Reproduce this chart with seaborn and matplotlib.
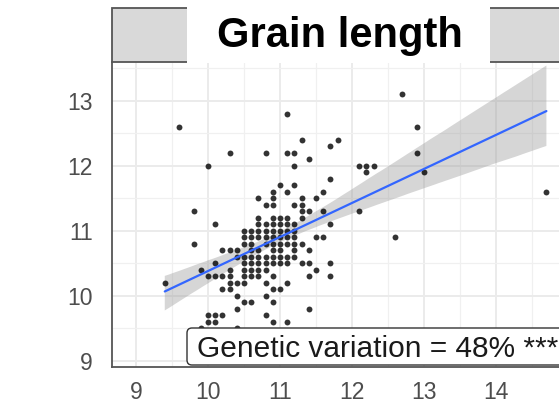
import matplotlib
matplotlib.use("Agg")
import matplotlib.pyplot as plt
import seaborn as sns
import pandas as pd
from matplotlib.patches import Rectangle, FancyBboxPatch
from matplotlib.ticker import MultipleLocator, FixedLocator
from matplotlib.collections import PolyCollection
from matplotlib.transforms import IdentityTransform

# ---- data (one line per y level) ----
x_values = [
    12.7,
    11.1,
    9.6, 12.9,
    11.3, 11.8,
    11.7,
    10.3, 10.8, 11.1, 11.2, 12.9,
    11.4,
    10.0, 11.2, 12.1, 12.2, 12.3,
    12.2, 13.0,
    11.7,
    11.0, 11.2,
    10.9, 11.1, 11.6, 14.7,
    10.7, 10.9, 11.3, 11.5,
    10.8, 10.9, 11.2, 11.3,
    9.8, 11.3, 11.4, 11.6, 12.1,
    10.7, 10.9, 11.0, 11.1, 11.3,
    10.1, 10.7, 10.8, 10.9, 11.0, 11.1, 11.2, 11.7,
    10.5, 10.6, 10.7, 10.8, 10.9, 11.0, 11.1, 11.2,
    10.5, 10.6, 10.7, 10.8, 10.9, 11.0, 11.1, 11.2, 11.5, 11.6, 12.6,
    9.8, 10.5, 10.6, 10.8, 10.9, 11.0, 11.1, 11.2, 11.3,
    10.2, 10.3, 10.4, 10.6, 10.7, 10.9, 11.0, 11.2, 11.4,
    10.4, 10.5, 10.6, 10.7, 10.8, 10.9, 11.0, 11.1, 11.2,
    10.1, 10.5, 10.6, 10.7, 10.8, 10.9, 11.0, 11.1, 11.3, 11.4, 11.7,
    9.9, 10.3, 10.5, 10.6, 10.7, 10.8, 11.5,
    10.0, 10.1, 10.2, 10.3, 10.5, 10.6, 10.7, 10.9, 11.4, 11.7,
    9.4, 10.3, 10.4, 10.5, 10.8, 11.1,
    10.2, 10.3, 10.9, 11.0,
    10.4, 10.8,
    10.5, 10.6, 10.9,
    10.4, 11.4,
    10.0, 10.1, 10.2, 10.8,
    10.0, 10.1, 10.9, 11.1,
    9.9, 10.4,
]
y_values = [
    13.1,
    12.8,
    12.6, 12.6,
    12.4, 12.4,
    12.3,
    12.2, 12.2, 12.2, 12.2, 12.2,
    12.1,
    12.0, 12.0, 12.0, 12.0, 12.0,
    11.9, 11.9,
    11.8,
    11.7, 11.7,
    11.6, 11.6, 11.6, 11.6,
    11.5, 11.5, 11.5, 11.5,
    11.4, 11.4, 11.4, 11.4,
    11.3, 11.3, 11.3, 11.3, 11.3,
    11.2, 11.2, 11.2, 11.2, 11.2,
    11.1, 11.1, 11.1, 11.1, 11.1, 11.1, 11.1, 11.1,
    11.0, 11.0, 11.0, 11.0, 11.0, 11.0, 11.0, 11.0,
    10.9, 10.9, 10.9, 10.9, 10.9, 10.9, 10.9, 10.9, 10.9, 10.9, 10.9,
    10.8, 10.8, 10.8, 10.8, 10.8, 10.8, 10.8, 10.8, 10.8,
    10.7, 10.7, 10.7, 10.7, 10.7, 10.7, 10.7, 10.7, 10.7,
    10.6, 10.6, 10.6, 10.6, 10.6, 10.6, 10.6, 10.6, 10.6,
    10.5, 10.5, 10.5, 10.5, 10.5, 10.5, 10.5, 10.5, 10.5, 10.5, 10.5,
    10.4, 10.4, 10.4, 10.4, 10.4, 10.4, 10.4,
    10.3, 10.3, 10.3, 10.3, 10.3, 10.3, 10.3, 10.3, 10.3, 10.3,
    10.2, 10.2, 10.2, 10.2, 10.2, 10.2,
    10.1, 10.1, 10.1, 10.1,
    10.0, 10.0,
    9.9, 9.9, 9.9,
    9.8, 9.8,
    9.7, 9.7, 9.7, 9.7,
    9.6, 9.6, 9.6, 9.6,
    9.5, 9.5,
]
x_ticks = [9, 10, 11, 12, 13, 14]
y_ticks = [9, 10, 11, 12, 13]
strip_title = "Grain length"
annotation = "Genetic variation = 48% ***"

sns.set_style("white")
plt.rcParams["font.family"] = ["Liberation Sans", "DejaVu Sans"]

W, H = 559, 407
fig = plt.figure(figsize=(W / 100, H / 100), dpi=100)
ax_left, ax_bottom, ax_top = 112, 367, 62
ax = fig.add_axes([ax_left / W, (H - ax_bottom) / H, 1 - ax_left / W, (ax_bottom - ax_top) / H])

df = pd.DataFrame({"x": x_values, "y": y_values})
sns.regplot(
    data=df, x="x", y="y", ax=ax, ci=90, n_boot=2000, seed=3,
    scatter_kws=dict(s=18, color="black", linewidths=0, zorder=3),
    line_kws=dict(color="#3366FF", lw=1.6, zorder=4),
)
for coll in ax.collections:
    if isinstance(coll, PolyCollection):
        coll.set_alpha(None)
        coll.set_facecolor((0.6, 0.6, 0.6, 0.4))
        coll.set_edgecolor("none")
        coll.set_zorder(2)

ax.set_xlim(8.667, 14.875)
ax.set_ylim(8.903, 13.595)
ax.xaxis.set_major_locator(FixedLocator(x_ticks))
ax.yaxis.set_major_locator(FixedLocator(y_ticks))
ax.xaxis.set_minor_locator(MultipleLocator(0.5))
ax.yaxis.set_minor_locator(MultipleLocator(0.5))
ax.set_axisbelow(True)
ax.grid(which="major", color="#EBEBEB", lw=1.4)
ax.grid(which="minor", color="#F0F0F0", lw=0.9)
ax.set_xlabel("")
ax.set_ylabel("")

ax.tick_params(axis="both", which="major", length=5, width=1.2, color="#555555",
               labelsize=16.5, labelcolor="#4D4D4D", direction="out")
ax.tick_params(axis="x", which="major", pad=5)
ax.tick_params(axis="y", which="major", pad=9)
ax.tick_params(which="minor", length=0)
for s in ["top", "right"]:
    ax.spines[s].set_visible(False)
for s in ["left", "bottom"]:
    ax.spines[s].set_color("#555555")
    ax.spines[s].set_linewidth(1.3)

# annotation label (ggplot geom_label look): box in pixel coords, text in data coords
label_box = FancyBboxPatch((187, H - 365), 700, 37, boxstyle="round,pad=0,rounding_size=5",
                           transform=IdentityTransform(), facecolor="white",
                           edgecolor="#333333", lw=1.0, zorder=5)
ax.add_artist(label_box)
label_box.set_clip_box(ax.bbox)
ax.text(9.85, 9.057, annotation, fontsize=21.5, color="#1A1A1A", ha="left", va="baseline",
        clip_on=True, zorder=6)

# facet strip
strip = Rectangle((ax_left / W, (H - ax_top) / H), 1.1, (ax_top - 8) / H,
                  transform=fig.transFigure, facecolor="#D9D9D9", edgecolor="#555555",
                  lw=1.3, zorder=1)
fig.add_artist(strip)
# white title box on top of the strip
box = Rectangle((187 / W, (H - ax_top - 1) / H), (490 - 187) / W, (ax_top + 1) / H,
                transform=fig.transFigure, facecolor="white", edgecolor="none", zorder=2)
fig.add_artist(box)
fig.text(340 / W, (H - 47) / H, strip_title, fontsize=30, fontweight="bold", color="black",
         ha="center", va="baseline", zorder=3)

fig.savefig("out.png", dpi=100)
